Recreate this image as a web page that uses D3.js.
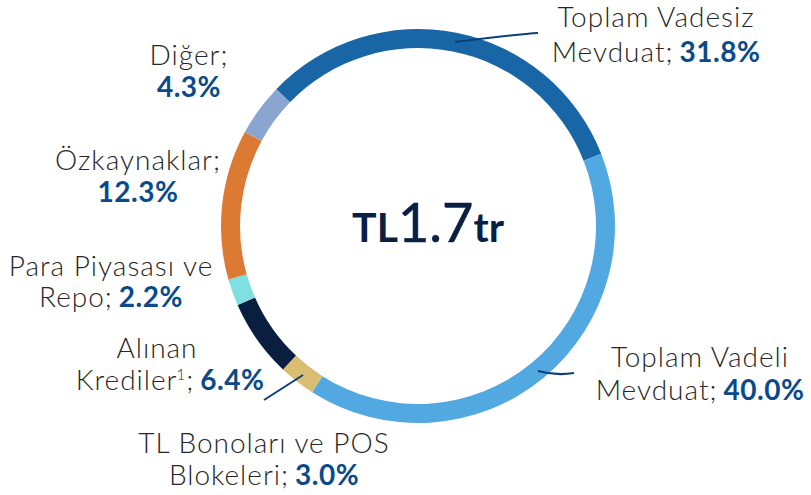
<!DOCTYPE html>
<html>
<head>
<meta charset="utf-8">
<script src="https://cdn.jsdelivr.net/npm/d3@7"></script>
<style>
  html, body { margin: 0; padding: 0; background: #fff; }
  svg { display: block; }
  .lbl { font-family: Lato, "Open Sans", sans-serif; font-weight: 300; font-size: 28px; letter-spacing: 1px; fill: #262626; }
  .pct { font-weight: 700; fill: #0b4a8a; letter-spacing: 0.5px; }
</style>
</head>
<body>
<svg id="chart" width="811" height="495"></svg>
<script>
const categories = ["Toplam Vadesiz Mevduat", "Toplam Vadeli Mevduat", "TL Bonoları ve POS Blokeleri", "Alınan Krediler", "Para Piyasası ve Repo", "Özkaynaklar", "Diğer"];
const values = [31.8, 40.0, 3.0, 6.4, 2.2, 12.3, 4.3];
const colors = ["#1866a5", "#52a9e2", "#d8bd72", "#0a1e40", "#7ee0e0", "#dc7a33", "#8aa5cf"];
const centerText = ["TL", "1.7", "tr"];

const svg = d3.select("#chart");
const cx = 418, cy = 226, R = 197, r = 178;
const start = -46 * Math.PI / 180;

const pie = d3.pie().sort(null).value(d => d).startAngle(start).endAngle(start + 2 * Math.PI);
const arc = d3.arc().innerRadius(r).outerRadius(R);
const g = svg.append("g").attr("transform", `translate(${cx},${cy})`);
g.selectAll("path").data(pie(values)).join("path")
  .attr("d", arc).attr("fill", (d, i) => colors[i]);

// center text
const ct = svg.append("text").attr("x", 428).attr("y", 242).attr("text-anchor", "middle")
  .attr("font-family", "Lato, 'Open Sans', sans-serif").attr("fill", "#0a1f44");
ct.append("tspan").text(centerText[0]).attr("font-size", 41).attr("font-weight", 700);
ct.append("tspan").text(centerText[1]).attr("font-size", 54).attr("font-weight", 400)
  .attr("stroke", "#0a1f44").attr("stroke-width", 0.6);
ct.append("tspan").text(centerText[2]).attr("font-size", 41).attr("font-weight", 700);

const fmt = v => v.toFixed(1) + "%";
const labels = [
  { x: 656, lines: [["Toplam Vadesiz", ""], ["Mevduat;", fmt(values[0])]], y: [27, 62] },
  { x: 700, lines: [["Toplam Vadeli", ""], ["Mevduat;", fmt(values[1])]], y: [367, 400] },
  { x: 264, lines: [["TL Bonoları ve POS", ""], ["Blokeleri;", fmt(values[2])]], y: [453, 485] },
  { x: 111, lines: [["Para Piyasası ve", ""], ["Repo;", fmt(values[4])]], y: [276, 307] },
  { x: 138, lines: [["Özkaynaklar;", ""], ["", fmt(values[5])]], y: [170, 202] },
  { x: 189, lines: [["Diğer;", ""], ["", fmt(values[6])]], y: [65, 97] }
];
labels.forEach(L => {
  L.lines.forEach((ln, k) => {
    const t = svg.append("text").attr("class", "lbl").attr("x", L.x).attr("y", L.y[k]).attr("text-anchor", "middle");
    if (ln[0]) t.append("tspan").text(ln[0]);
    if (ln[1]) t.append("tspan").attr("class", "pct").attr("dx", ln[0] ? 6 : 0).text(ln[1]);
  });
});
// Alınan Krediler with superscript
svg.append("text").attr("class", "lbl").attr("x", 157).attr("y", 358).attr("text-anchor", "middle").text("Alınan");
const ak = svg.append("text").attr("class", "lbl").attr("x", 170).attr("y", 390).attr("text-anchor", "middle");
ak.append("tspan").text("Krediler");
ak.append("tspan").text("1").attr("font-size", 15).attr("dy", -10).attr("dx", -1);
ak.append("tspan").text(";").attr("dy", 10);
ak.append("tspan").attr("class", "pct").attr("dx", 6).text(fmt(values[3]));

// leader lines
const leaders = [
  "M455,42 Q520,34 538,33",
  "M538,371 Q556,376 574,373",
  "M303,375 L264,400"
];
svg.selectAll("path.leader").data(leaders).join("path").attr("class", "leader")
  .attr("d", d => d).attr("fill", "none").attr("stroke", "#0b3f7a").attr("stroke-width", 2);
</script>
</body>
</html>
